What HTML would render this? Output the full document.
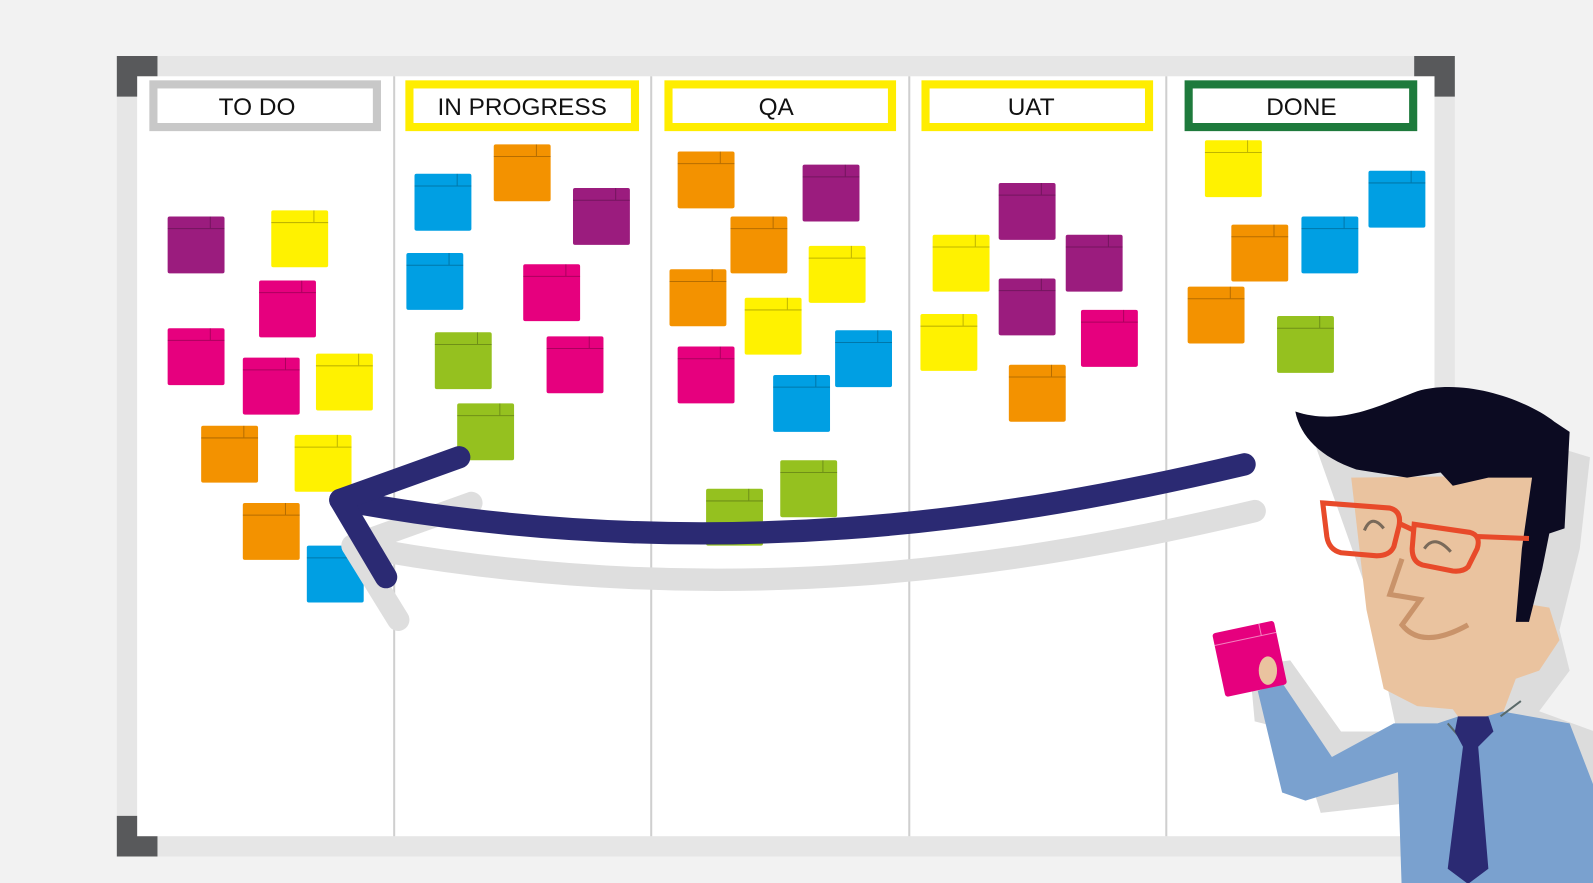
<!DOCTYPE html>
<html><head><meta charset="utf-8"><style>
html,body{margin:0;padding:0;background:#f2f2f2;overflow:hidden}
svg{display:block}
text{font-family:"Liberation Sans",sans-serif}
</style></head><body>
<svg width="1593" height="883" viewBox="0 0 1568 869" xmlns="http://www.w3.org/2000/svg">
<defs>
<g id="n"><rect width="56" height="56" rx="2"/><path d="M0 12H56M42 0V12" stroke="#000" stroke-opacity=".25" stroke-width="1" fill="none"/></g>
</defs>
<rect width="1568" height="869" fill="#f2f2f2"/>
<rect x="115" y="55" width="1317" height="788" fill="#e6e6e6"/>
<rect x="135" y="75" width="1277" height="748" fill="#fff"/>
<path d="M115 55h40v20h-20v20h-20z M1432 55h-40v20h20v20h20z M115 843h40v-20h-20v-20h-20z M1432 843h-40v-20h20v-20h20z" fill="#58595b"/>
<g stroke="#cfcfcf" stroke-width="2"><path d="M388 75V823M641 75V823M895 75V823M1148 75V823"/></g>
<g fill="#fff" stroke-width="8">
<rect x="151" y="83" width="220" height="42" stroke="#c8c8c8"/>
<rect x="403" y="83" width="222" height="42" stroke="#ffed00"/>
<rect x="658" y="83" width="220" height="42" stroke="#ffed00"/>
<rect x="911" y="83" width="220" height="42" stroke="#ffed00"/>
<rect x="1170" y="83" width="221" height="42" stroke="#1e7a3c"/>
</g>
<g font-size="24" text-anchor="middle" fill="#111">
<text x="253" y="113">TO DO</text><text x="514" y="113">IN PROGRESS</text><text x="764" y="113">QA</text><text x="1015" y="113">UAT</text><text x="1281" y="113">DONE</text>
</g>
<g>
<use href="#n" x="165" y="213" fill="#9b1c7e"/><use href="#n" x="267" y="207" fill="#fff200"/><use href="#n" x="255" y="276" fill="#e6007e"/><use href="#n" x="165" y="323" fill="#e6007e"/><use href="#n" x="239" y="352" fill="#e6007e"/><use href="#n" x="311" y="348" fill="#fff200"/><use href="#n" x="198" y="419" fill="#f39200"/><use href="#n" x="290" y="428" fill="#fff200"/><use href="#n" x="239" y="495" fill="#f39200"/><use href="#n" x="302" y="537" fill="#009fe3"/>
<use href="#n" x="408" y="171" fill="#009fe3"/><use href="#n" x="486" y="142" fill="#f39200"/><use href="#n" x="564" y="185" fill="#9b1c7e"/><use href="#n" x="400" y="249" fill="#009fe3"/><use href="#n" x="515" y="260" fill="#e6007e"/><use href="#n" x="428" y="327" fill="#95c11f"/><use href="#n" x="538" y="331" fill="#e6007e"/><use href="#n" x="450" y="397" fill="#95c11f"/>
<use href="#n" x="667" y="149" fill="#f39200"/><use href="#n" x="790" y="162" fill="#9b1c7e"/><use href="#n" x="719" y="213" fill="#f39200"/><use href="#n" x="796" y="242" fill="#fff200"/><use href="#n" x="659" y="265" fill="#f39200"/><use href="#n" x="733" y="293" fill="#fff200"/><use href="#n" x="822" y="325" fill="#009fe3"/><use href="#n" x="667" y="341" fill="#e6007e"/><use href="#n" x="761" y="369" fill="#009fe3"/><use href="#n" x="768" y="453" fill="#95c11f"/><use href="#n" x="695" y="481" fill="#95c11f"/>
<use href="#n" x="983" y="180" fill="#9b1c7e"/><use href="#n" x="918" y="231" fill="#fff200"/><use href="#n" x="1049" y="231" fill="#9b1c7e"/><use href="#n" x="983" y="274" fill="#9b1c7e"/><use href="#n" x="906" y="309" fill="#fff200"/><use href="#n" x="1064" y="305" fill="#e6007e"/><use href="#n" x="993" y="359" fill="#f39200"/>
<use href="#n" x="1186" y="138" fill="#fff200"/><use href="#n" x="1347" y="168" fill="#009fe3"/><use href="#n" x="1212" y="221" fill="#f39200"/><use href="#n" x="1281" y="213" fill="#009fe3"/><use href="#n" x="1169" y="282" fill="#f39200"/><use href="#n" x="1257" y="311" fill="#95c11f"/>
</g>
<g fill="none" stroke="#dedede" stroke-width="22" stroke-linecap="round" stroke-linejoin="round">
<path d="M1235,503 C1010,556 712,606 347,537"/><path d="M464,495 L347,537 L392,610"/>
</g>
<g fill="none" stroke="#2b2a73" stroke-width="22" stroke-linecap="round" stroke-linejoin="round">
<path d="M1225,457 C1000,510 700,560 335,492"/><path d="M452,450 L335,492 L380,568"/>
</g>
<g fill="#dcdcdc">
<path d="M1290,425 L1400,400 L1565,450 L1555,540 L1535,620 L1545,660 L1515,700 L1570,720 L1593,800 L1593,883 L1395,883 L1390,790 L1300,800 L1275,720 L1235,710 L1230,655 L1270,650 L1320,720 L1375,720 L1345,580 Z"/>
</g>
<path d="M1415,712 L1460,697 L1545,712 L1575,790 L1593,883 L1380,883 L1376,760 L1285,788 L1262,780 L1238,680 L1262,672 L1311,745 L1372,712 Z" fill="#7aa1cf"/>
<path d="M1330,470 L1508,468 L1506,595 L1525,598 L1535,630 L1515,660 L1492,668 L1480,700 L1440,712 L1430,698 L1395,695 L1362,678 L1345,600 Z" fill="#eac39f"/>
<path d="M1275,405 C1320,420 1360,398 1395,385 C1440,372 1500,392 1530,415 L1545,425 L1540,520 L1525,525 L1518,560 L1505,612 L1492,612 L1498,540 L1508,470 L1465,470 L1430,478 L1418,465 L1385,470 L1335,462 C1300,450 1280,430 1275,405 Z" fill="#0c0b22"/>
<path d="M1477,705 L1497,690 M1425,712 L1445,735" stroke="#5a6a6a" stroke-width="2"/>
<path d="M1435,705 L1465,705 L1470,720 L1455,735 L1465,855 L1445,870 L1425,855 L1440,735 L1432,720 Z" fill="#2b2a73"/>
<g fill="none" stroke="#e84a2a" stroke-width="5">
<path d="M1302,495 L1368,500 Q1380,503 1377,518 L1372,538 Q1368,547 1355,547 L1320,544 Q1308,541 1306,528 Z"/>
<path d="M1392,516 L1447,524 Q1458,527 1454,540 L1445,558 Q1440,563 1430,562 L1400,556 Q1390,553 1390,540 Z"/>
<path d="M1377,515 L1392,522 M1454,528 L1505,530"/>
</g>
<g fill="none" stroke="#7a6a5a" stroke-width="3"><path d="M1343,522 Q1350,505 1362,520 M1402,540 Q1412,525 1428,543"/></g>
<path d="M1380,550 L1368,585 L1398,590 L1380,615 Q1400,640 1445,615" fill="none" stroke="#c9936a" stroke-width="5"/>
<g transform="rotate(-12 1232 648)"><rect x="1199" y="616" width="62" height="64" rx="3" fill="#e6007e"/><path d="M1199 628H1261M1246 616V628" stroke="#fff" stroke-opacity=".5"/></g>
<ellipse cx="1248" cy="660" rx="9" ry="14" fill="#eac39f"/>
</svg>
</body></html>
